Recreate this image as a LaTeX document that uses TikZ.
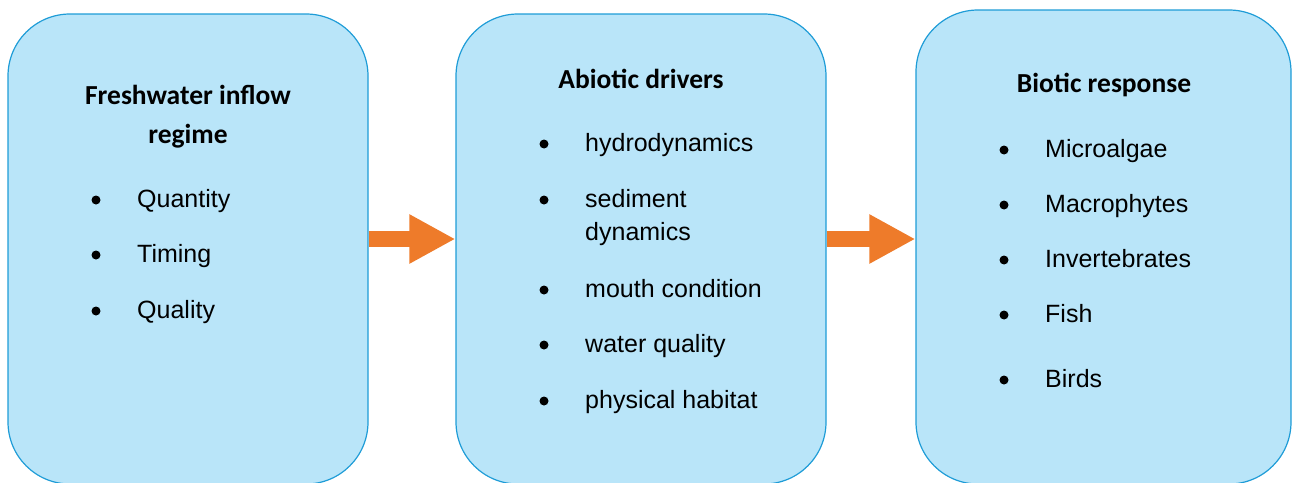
\documentclass[tikz,border=0pt]{standalone}
\usepackage{fontspec}
\setmainfont{Liberation Sans}
\newfontfamily\headfont{Carlito}
\usetikzlibrary{arrows.meta,positioning}
\definecolor{BoxFill}{HTML}{B9E5F9}
\definecolor{BoxLine}{HTML}{1E9CD7}
\definecolor{FlowOrange}{HTML}{EE7B2A}
\tikzset{
    box/.style = {draw=BoxLine, fill=BoxFill, line width=1.2pt,
        rectangle, rounded corners=62pt, inner sep=0pt},
    head/.style = {font=\headfont\bfseries\fontsize{27.5}{39}\selectfont,
        align=center, anchor=base, inner sep=0pt},
    item/.style = {font=\fontsize{25}{32}\selectfont, anchor=base west,
        inner sep=0pt},
    bullet/.style = {circle, fill=black, inner sep=0pt, minimum size=9pt},
    flow/.style = {draw=FlowOrange, line width=16pt,
        -{Triangle[length=46pt,width=46pt]}}
}

\begin{document}
\begin{tikzpicture}[x=1pt,y=-1pt]
  \useasboundingbox (0,0) rectangle (1292,482);
  % the three stages
  \node[box, minimum width=360pt, minimum height=470pt] (inflow) at (188,249) {};
  \node[box, minimum width=370pt, minimum height=470pt] (abiotic) at (641,249) {};
  \node[box, minimum width=375pt, minimum height=474pt] (biotic) at (1103.5,247) {};

  \node[head] (inflowhead) at (188,143) {Freshwater inflow\\regime};
  \node[head] (abiotichead) at (641,88) {Abiotic drivers};
  \node[head] (biotichead) at (1104,92) {Biotic response};

  % bullet lists, y is the baseline
  \foreach \y/\t in {207/Quantity,262/Timing,318/Quality}{
    \node[bullet] (ib\y) at (96,\y-7) {};
    \node[item] (it\y) at (137,\y) {\t};
  };
  \foreach \y/\t in {151/hydrodynamics,207/sediment,297/mouth condition,352/water quality,408/physical habitat}{
    \node[bullet] (ab\y) at (544,\y-7) {};
    \node[item] (at\y) at (585,\y) {\t};
  };
  \node[item] (at240) at (585,240) {dynamics};
  \foreach \y/\t in {157/Microalgae,212/Macrophytes,267/Invertebrates,322/Fish,387/Birds}{
    \node[bullet] (bb\y) at (1004,\y-7) {};
    \node[item] (bt\y) at (1045,\y) {\t};
  };

  % flow between stages
  \draw[flow] ([yshift=10pt]inflow.east) -- ([yshift=10pt]abiotic.west);
  \draw[flow] ([yshift=10pt]abiotic.east) -- ([yshift=8pt]biotic.west);
\end{tikzpicture}
\end{document}
